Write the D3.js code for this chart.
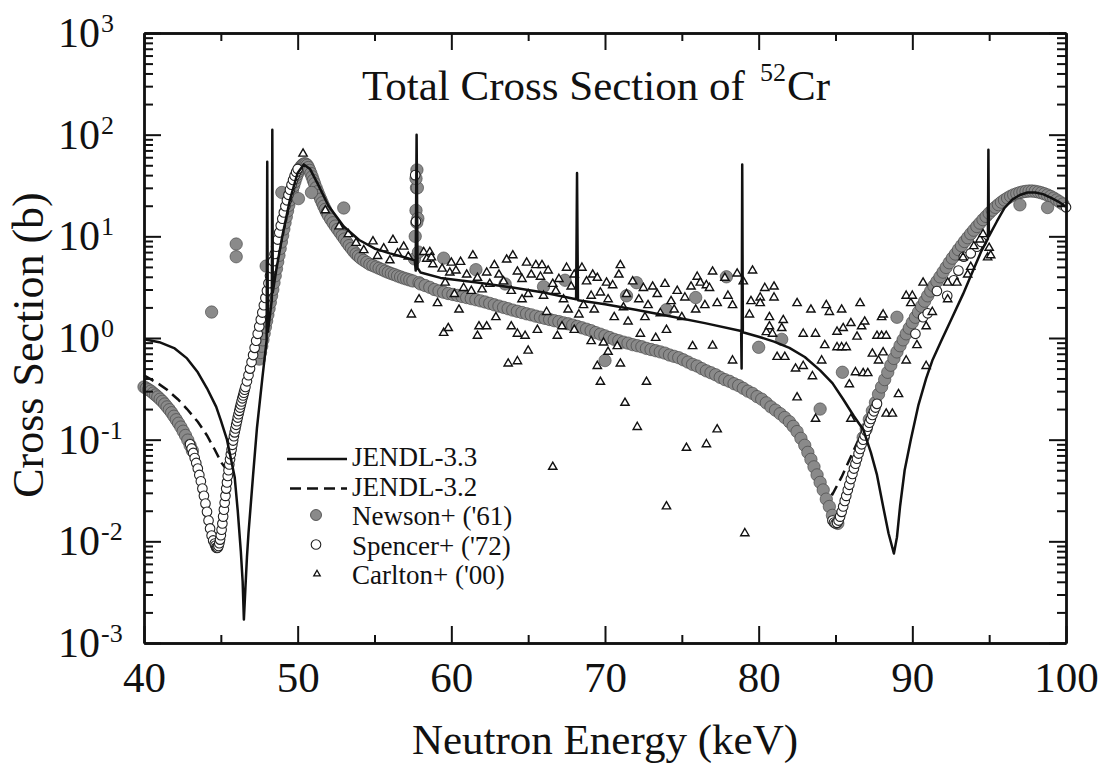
<!DOCTYPE html>
<html>
<head>
<meta charset="utf-8">
<script src="https://cdn.jsdelivr.net/npm/d3@7"></script>
<style>
  body { margin: 0; background: #fff; }
  svg { display: block; }
  text { font-family: "Liberation Serif", "Times New Roman", serif; fill: #111; }
</style>
</head>
<body>
<svg width="1104" height="768"></svg>
<script>
// Values: [neutron energy (keV), cross section (b)]
const jendl33 = [
  [40,0.97],[41,0.91],[42,0.79],[42.8,0.63],[43.5,0.46],[44.1,0.32],[44.7,0.21],[45.0,0.155],[45.4,0.1],
  [45.9,0.043],[46.1,0.02],[46.3,0.008],[46.42,0.004],[46.5,0.0017],[46.6,0.0035],[46.7,0.007],[46.8,0.012],
  [47.1,0.045],[47.35,0.13],[47.7,0.4],[47.98,0.95],[48.02,54],[48.06,1.15],[48.2,1.7],[48.32,2.4],[48.35,112],
  [48.38,2.8],[48.6,4.6],[49.0,10],[49.5,23],[50.0,42],[50.4,51],[50.8,46],[51.3,33],[52,20],[53,12.5],[54,9.2],
  [55,7.6],[56,6.8],[57,6.2],[57.62,5.8],[57.68,4.6],[57.74,100],[57.8,4.9],[58,4.4],[59.3,3.9],[61.8,3.5],
  [63.6,3.2],[66,2.8],[68.12,2.4],[68.18,42],[68.24,2.35],[70,2.15],[72,1.9],[74.4,1.62],[76.5,1.4],[78.86,1.17],
  [78.89,0.5],[78.93,51],[78.97,1.14],[80,1.03],[81,0.92],[82,0.8],[83,0.65],[84,0.48],[84.8,0.36],[85.5,0.25],
  [86.2,0.17],[86.8,0.126],[87.3,0.075],[87.7,0.045],[88.1,0.022],[88.45,0.012],[88.8,0.0076],[89.0,0.011],
  [89.2,0.022],[89.5,0.05],[89.9,0.1],[90.4,0.22],[90.9,0.4],[91.3,0.6],[91.9,0.95],[92.6,1.6],[93.3,2.7],
  [94,4.8],[94.5,7.2],[94.92,9.5],[94.95,71],[94.98,10],[95.5,14],[96,19],[96.5,23],[97,25.5],[97.5,27],
  [98,27],[98.5,26],[99,24],[99.5,22],[100,19.5]
];

const jendl32 = [
  [40,0.43],[41,0.35],[41.5,0.31],[42.2,0.25],[42.8,0.2],[43.5,0.15],[44.1,0.11],[44.6,0.08],[45.05,0.059],
  [45.4,0.05],[45.7,0.06],[46.0,0.11],[46.5,0.28],[47.0,0.6],[47.5,1.25],[48.0,2.8],[48.5,6.2],[49.0,13],
  [49.5,27],[50.0,45],[50.4,52],[50.8,45],[51.3,30],[52,16],[53,9.4],[54,6.3],[55,5.0],[56,4.3],[57,3.85],
  [58,3.4],[60,2.68],[62,2.3],[64,1.88],[66,1.57],[68,1.31],[70,1.05],[72,0.84],[74,0.69],[76,0.53],[78,0.38],
  [80,0.26],[82,0.15],[83,0.09],[83.8,0.048],[84.4,0.031],[84.8,0.029],[85.4,0.043],[86.0,0.068],[86.5,0.1],
  [87.0,0.15],[87.5,0.21],[88.5,0.47],[89.4,0.9],[90.3,1.6],[91.5,3.25],[93,7.0],[94.5,13.5],[96,23],
  [97.5,27.7],[99,25],[100,20]
];

// dense Newson+ points forming the grey band
const newsonBand = [
  [40,0.33],[40.15,0.32],[40.3,0.31],[40.45,0.3],[40.6,0.287],[40.75,0.275],[40.9,0.263],[41.05,0.25],
  [41.2,0.238],[41.35,0.224],[41.5,0.21],[41.65,0.197],[41.8,0.184],[41.95,0.17],[42.1,0.157],[42.25,0.145],
  [42.4,0.133],[42.55,0.121],[42.7,0.11],[42.85,0.099],[43.0,0.088],[43.15,0.078],
  [47.5,0.62],[47.58,0.72],[47.66,0.83],[47.74,0.96],[47.82,1.11],[47.9,1.28],[47.98,1.47],[48.06,1.69],
  [48.14,1.95],[48.22,2.24],[48.3,2.6],[48.38,3.0],[48.46,3.5],[48.54,4.1],[48.62,4.8],[48.7,5.6],[48.78,6.5],
  [48.86,7.6],[48.94,8.8],[49.02,10.2],[49.1,11.8],[49.18,13.6],[49.26,15.6],[49.34,17.8],[49.42,20.2],
  [49.5,22.8],[49.58,25.5],[49.66,28.4],[49.74,31.4],[49.82,34.5],[49.9,37.7],[49.98,40.8],[50.06,43.7],
  [50.14,46.3],[50.22,48.5],[50.3,50.2],[50.38,51.3],[50.46,51.7],[50.54,51.3],[50.62,50],[50.7,47.5],
  [50.78,44.5],[50.86,41.5],[50.94,38.5],[51.02,35.5],[51.1,33],[51.2,30],[51.3,27.5],[51.4,25.2],
  [51.5,23.2],[51.6,21.4],[51.7,19.8],[51.8,18.4],[51.9,17.1],[52.0,16],[52.15,14.7],[52.3,13.6],
  [52.45,12.6],[52.6,11.7],[52.75,10.9],[52.9,10.1],[53.05,9.4],[53.2,8.7],[53.35,8.1],[53.5,7.6],
  [53.65,7.1],[53.8,6.7],[53.95,6.4],[54.1,6.1],[54.3,5.8],[54.5,5.55],[54.7,5.3],[54.9,5.15],[55.1,5.0],
  [55.3,4.85],[55.5,4.7],[55.7,4.55],[55.9,4.42],[56.1,4.3],[56.3,4.2],[56.5,4.08],[56.7,3.98],[56.9,3.88],
  [57.1,3.8],[57.3,3.72],[57.5,3.64],[57.6,6],[57.65,10],[57.7,18],[57.73,30],[57.76,45],[57.79,30],
  [57.82,15],[57.86,7],[57.9,3.5],
  [58.0,3.4],[58.3,3.28],[58.6,3.15],[58.9,3.0],[59.2,2.9],[59.5,2.82],[59.8,2.74],[60.1,2.68],[60.4,2.62],
  [60.7,2.56],[61.0,2.5],[61.3,2.44],[61.6,2.38],[61.9,2.32],[62.2,2.26],[62.5,2.19],[62.8,2.12],[63.1,2.06],
  [63.4,2.0],[63.7,1.94],[64.0,1.88],[64.3,1.83],[64.6,1.78],[64.9,1.73],[65.2,1.69],[65.5,1.64],[65.8,1.6],
  [66.1,1.56],[66.4,1.52],[66.7,1.48],[67.0,1.45],[67.3,1.41],[67.6,1.38],[67.9,1.34],[68.2,1.3],[68.5,1.26],
  [68.8,1.22],[69.1,1.18],[69.4,1.13],[69.7,1.09],[70.0,1.05],[70.3,1.01],[70.6,0.97],[70.9,0.94],[71.2,0.91],
  [71.5,0.89],[71.8,0.86],[72.1,0.84],[72.4,0.82],[72.7,0.79],[73.0,0.77],[73.3,0.75],[73.6,0.73],[73.9,0.71],
  [74.2,0.68],[74.5,0.66],[74.8,0.64],[75.1,0.61],[75.4,0.58],[75.7,0.55],[76.0,0.53],[76.3,0.5],[76.6,0.475],
  [76.9,0.455],[77.2,0.435],[77.5,0.41],[77.8,0.39],[78.1,0.375],[78.4,0.355],[78.7,0.34],[79.0,0.32],
  [79.3,0.3],[79.6,0.285],[79.9,0.265],[80.2,0.25],[80.5,0.23],[80.8,0.21],[81.1,0.195],[81.4,0.18],
  [81.7,0.165],[82.0,0.15],[82.25,0.135],[82.5,0.12],[82.75,0.103],[83.0,0.088],[83.2,0.075],[83.4,0.064],
  [83.6,0.054],[83.8,0.045],[84.0,0.038],[84.2,0.032],[84.4,0.026],[84.6,0.022],[84.8,0.018],[85.0,0.0158],
  [85.15,0.015],
  [86.8,0.105],[87.0,0.128],[87.2,0.158],[87.4,0.192],[87.6,0.232],[87.8,0.28],[88.0,0.33],[88.2,0.39],
  [88.4,0.46],[88.6,0.54],[88.8,0.63],[89.0,0.73],[89.2,0.84],[89.4,0.96],[89.6,1.1],[89.8,1.25],[90.0,1.42],
  [90.2,1.6],[90.4,1.8],[90.6,2.05],[90.8,2.3],[91.0,2.6],[91.2,2.9],[91.4,3.25],[91.6,3.6],[91.8,4.0],
  [92.0,4.45],[92.2,4.95],[92.4,5.5],[92.6,6.1],[92.8,6.7],[93.0,7.4],[93.2,8.1],[93.4,8.9],[93.6,9.7],
  [93.8,10.6],[94.0,11.5],[94.2,12.5],[94.4,13.5],[94.6,14.6],[94.8,15.7],[95.0,16.9],[95.2,18.1],[95.4,19.3],
  [95.6,20.5],[95.8,21.7],[96.0,22.8],[96.2,23.8],[96.4,24.8],[96.6,25.6],[96.8,26.3],[97.0,26.9],[97.2,27.4],
  [97.4,27.7],[97.6,27.9],[97.8,27.9],[98.0,27.7],[98.2,27.3],[98.4,26.8],[98.6,26.2],[98.8,25.5],[99.0,24.7],
  [99.2,23.8],[99.4,22.8],[99.6,21.8],[99.8,20.8]
];

// scattered Newson+ points
const newsonScatter = [
  [44.4,1.8],[46.0,8.4],[46.0,6.3],[47.95,5.1],[48.97,27],[50.05,23.5],[50.9,27],[53.0,19],[57.7,37],
  [57.75,13.7],[59.5,6.1],[61.6,4.7],[63.5,3.4],[66.0,3.2],[67.4,3.7],[70.0,0.6],[71.4,2.6],[72.05,3.5],
  [74.0,1.9],[75.9,2.5],[77.9,4.0],[80.0,0.81],[81.5,0.97],[84.0,0.2],[85.45,0.46],[89.0,1.6],[97.0,20.4],
  [98.8,19.2]
];

const spencer = [
  [43.0,0.09],[43.1,0.082],[43.2,0.074],[43.3,0.066],[43.4,0.059],[43.5,0.052],[43.6,0.045],[43.7,0.039],
  [43.8,0.033],[43.9,0.028],[44.0,0.0235],[44.1,0.0195],[44.2,0.016],[44.3,0.0134],[44.4,0.0114],[44.5,0.0102],
  [44.6,0.0095],[44.65,0.0091],[44.7,0.0087],[44.75,0.0086],[44.8,0.0087],[44.85,0.009],[44.9,0.0096],
  [44.95,0.0104],[45.0,0.0115],[45.05,0.013],[45.1,0.015],[45.15,0.0175],[45.2,0.0205],[45.25,0.024],
  [45.3,0.028],[45.35,0.033],[45.4,0.038],[45.45,0.044],[45.5,0.05],[45.55,0.057],[45.6,0.064],[45.65,0.072],
  [45.7,0.08],[45.75,0.089],[45.8,0.098],[45.85,0.108],[45.9,0.118],[45.95,0.129],[46.0,0.14],[46.05,0.152],
  [46.1,0.165],[46.15,0.178],[46.2,0.192],[46.25,0.207],[46.3,0.222],[46.35,0.238],[46.4,0.255],[46.45,0.272],
  [46.5,0.29],[46.55,0.31],[46.6,0.33],[46.7,0.375],[46.8,0.43],[46.9,0.5],[47.0,0.58],[47.1,0.68],[47.2,0.8],
  [47.3,0.94],[47.4,1.1],[47.5,1.3],[47.6,1.52],[47.7,1.78],[47.8,2.1],[47.9,2.48],[48.0,2.92],[48.1,3.45],
  [48.2,4.1],[48.3,4.85],[48.4,5.7],[48.5,6.7],[48.6,7.9],[48.7,9.3],[48.8,10.9],[48.9,12.8],[49.0,14.9],
  [49.1,17.2],[49.2,19.8],[49.3,22.6],[49.4,25.6],[49.5,28.8],[49.6,32.2],[49.7,35.8],[49.8,39.5],[49.9,43],
  [50.0,46],[57.65,40],[57.7,14],
  [84.8,0.016],[84.9,0.0153],[85.0,0.015],[85.1,0.0152],[85.2,0.016],[85.3,0.0175],[85.4,0.0195],[85.5,0.022],
  [85.6,0.025],[85.7,0.028],[85.8,0.032],[85.9,0.036],[86.0,0.041],[86.1,0.046],[86.2,0.052],[86.3,0.058],
  [86.4,0.065],[86.5,0.073],[86.6,0.081],[86.7,0.09],[86.8,0.1],[86.9,0.11],[87.0,0.122],[87.1,0.134],
  [87.2,0.147],[87.3,0.16],[87.4,0.175],[87.5,0.19],[87.6,0.207],[87.7,0.225],
  [90.2,1.1],[90.7,1.6],[91.0,1.75],[91.6,2.9],[92.27,2.6],[92.7,3.7],[93.0,4.6],[93.35,6.3],[93.8,6.8],
  [94.2,7.9],[94.5,8.8],[100,19.3]
];

const carlton = [
  [50.35,65],[51.8,18],[52.7,12.5],[53.3,10.5],[53.8,8.6],[54.3,7.3],[54.9,8.9],[55.2,6.4],[55.6,7.6],
  [56.0,5.8],[56.2,9.2],[56.5,6.8],[56.9,7.9],[57.2,6.3],[57.4,1.7],[57.9,2.4],[58.2,7.0],[58.4,6.0],
  [58.6,7.0],[58.8,5.3],[59.1,2.2],[58.7,6.2],[59.4,4.8],[59.6,3.5],[59.5,1.12],[59.8,1.25],[59.9,4.4],
  [60.0,5.5],[60.2,2.7],[60.3,4.6],[60.5,1.9],[60.6,5.6],[60.8,3.1],[61.0,4.2],[61.3,2.9],[61.4,6.5],
  [61.7,3.9],[61.7,1.05],[61.8,1.3],[62.0,3.0],[62.3,4.4],[62.3,1.3],[62.5,3.4],[62.8,5.2],[62.9,1.6],
  [63.1,4.2],[63.4,3.6],[63.6,5.9],[63.7,0.56],[63.9,2.9],[63.9,1.3],[64.0,6.5],[64.3,4.5],[64.3,1.1],
  [64.3,0.59],[64.6,3.8],[64.6,2.4],[64.8,1.05],[64.9,5.5],[65.0,2.7],[65.0,0.75],[65.2,4.2],[65.5,5.2],
  [65.6,1.2],[65.8,4.0],[65.9,5.2],[66.0,2.6],[66.2,1.8],[66.3,4.6],[66.6,3.4],[66.6,0.054],[66.8,2.9],
  [66.9,1.05],[67.0,3.8],[67.2,1.3],[67.3,2.4],[67.5,4.9],[67.6,1.9],[67.8,3.2],[68.0,4.2],[68.0,1.2],
  [68.3,1.7],[68.5,4.9],[68.6,2.1],[68.8,3.6],[69.1,2.6],[69.1,0.93],[69.2,4.2],[69.3,1.9],[69.5,3.9],
  [69.5,0.53],[69.7,2.8],[69.7,0.37],[69.9,0.9],[70.1,3.5],[70.2,2.4],[70.2,0.73],[70.5,3.3],[70.6,1.6],
  [70.8,0.83],[70.9,4.2],[71.0,5.2],[71.0,0.56],[71.2,2.0],[71.3,0.23],[71.4,2.7],[71.5,1.45],[71.8,3.6],
  [72.1,0.133],[72.2,2.4],[72.3,1.1],[72.5,3.1],[72.6,1.6],[72.7,0.37],[72.8,2.1],[73.1,3.2],[73.3,1.0],
  [73.4,2.7],[73.6,1.75],[73.9,3.4],[74.0,1.2],[74.0,0.022],[74.3,2.3],[74.5,1.9],[74.7,2.9],[75.0,1.6],
  [75.2,2.5],[75.3,0.083],[75.6,3.2],[75.7,0.83],[75.9,1.9],[76.0,4.0],[76.2,3.5],[76.5,2.1],[76.6,3.3],
  [76.6,0.09],[76.8,3.1],[77.0,4.5],[77.0,0.84],[77.3,2.2],[77.3,0.126],[77.8,3.9],[78.0,2.6],[78.3,2.1],
  [78.3,0.6],[78.6,4.3],[79.0,3.6],[79.1,0.012],[79.4,1.7],[79.5,2.3],[79.6,4.6],[80.1,2.5],[80.1,2.2],
  [80.4,3.1],[80.5,1.14],[80.7,1.6],[80.7,1.3],[80.9,1.1],[81.0,3.2],[81.0,2.5],[81.2,0.65],[81.5,1.25],
  [81.6,1.5],[81.7,0.65],[82.4,0.5],[82.5,2.2],[82.5,0.26],[82.9,1.1],[82.9,0.53],[83.4,1.9],[83.5,0.42],
  [83.7,1.1],[83.7,0.16],[84.1,0.6],[84.3,0.85],[84.4,2.1],[84.6,1.8],[85.1,1.15],[85.1,0.81],[85.4,1.9],
  [85.4,0.81],[85.5,1.25],[85.7,0.81],[85.9,0.35],[86.0,1.4],[86.0,0.16],[86.3,0.46],[86.4,1.03],[86.6,2.2],
  [86.7,1.3],[86.8,0.45],[86.9,1.45],[87.1,0.45],[87.4,0.7],[87.7,1.05],[87.8,0.6],[88.0,1.6],[88.0,1.05],
  [88.1,0.72],[88.1,1.7],[88.3,1.05],[88.3,0.18],[88.7,0.18],[89.1,0.28],[89.6,2.6],[89.6,0.6],[89.9,2.2],
  [90.0,2.6],[90.3,0.85],[90.7,3.5],[90.9,1.3],[90.9,0.53],[91.3,1.8],[92.3,3.5],[92.3,2.4],[92.9,3.5],
  [93.3,6.2],[93.6,4.2],[93.8,5.0],[94.0,8.0],[94.4,9.3],[94.6,10.5],[94.9,6.2],[95.0,7.7],[95.1,6.5]
];

const xMajor = [40, 50, 60, 70, 80, 90, 100];
const xMinor = [45, 55, 65, 75, 85, 95];
const yExps = [-3, -2, -1, 0, 1, 2, 3];
const legendLabels = ["JENDL-3.3", "JENDL-3.2", "Newson+ ('61)", "Spencer+ ('72)", "Carlton+ ('00)"];

// Layout
const width = 1104;
const height = 768;
const margin = { top: 33, right: 38, bottom: 125, left: 144 };
const innerWidth = width - margin.left - margin.right;
const innerHeight = height - margin.top - margin.bottom;

const svg = d3.select('svg');
const g = svg.append('g').attr('transform', `translate(${margin.left},${margin.top})`);

const x = d3.scaleLinear().domain([40, 100]).range([0, innerWidth]);
const y = d3.scaleLog().domain([1e-3, 1e3]).range([innerHeight, 0]);

const yMajor = yExps.map(e => Math.pow(10, e));
const yMinor = [];
yExps.slice(0, -1).forEach(e => {
    for (let m = 2; m <= 9; m++) yMinor.push(m * Math.pow(10, e));
});

const line = d3.line().x(d => x(d[0])).y(d => y(d[1]));

// marker styles
const newsonStyle = { r: 6.2, fill: '#8a8a8a', stroke: '#3e3e3e', sw: 0.6 };
const spencerStyle = { r: 4.8, fill: '#fff', stroke: '#222', sw: 1.1 };

// JENDL-3.2 (dashed) sits underneath the data
g.append('path')
    .datum(jendl32)
    .attr('fill', 'none')
    .attr('stroke', '#111')
    .attr('stroke-width', 2.5)
    .attr('stroke-dasharray', '11,6')
    .attr('d', line);

// Newson+ grey circles
g.append('g').selectAll('circle')
    .data(newsonBand.concat(newsonScatter))
    .join('circle')
    .attr('cx', d => x(d[0]))
    .attr('cy', d => y(d[1]))
    .attr('r', newsonStyle.r)
    .attr('fill', newsonStyle.fill)
    .attr('stroke', newsonStyle.stroke)
    .attr('stroke-width', newsonStyle.sw);

// Spencer+ open circles
g.append('g').selectAll('circle')
    .data(spencer)
    .join('circle')
    .attr('cx', d => x(d[0]))
    .attr('cy', d => y(d[1]))
    .attr('r', spencerStyle.r)
    .attr('fill', spencerStyle.fill)
    .attr('stroke', spencerStyle.stroke)
    .attr('stroke-width', spencerStyle.sw);

// Carlton+ open triangles
const tri = d3.symbol().type(d3.symbolTriangle).size(30);
g.append('g').selectAll('path')
    .data(carlton)
    .join('path')
    .attr('transform', d => `translate(${x(d[0])},${y(d[1])})`)
    .attr('d', tri)
    .attr('fill', '#fff')
    .attr('stroke', '#111')
    .attr('stroke-width', 1.4);

// JENDL-3.3 (solid) on top
g.append('path')
    .datum(jendl33)
    .attr('fill', 'none')
    .attr('stroke', '#111')
    .attr('stroke-width', 2.5)
    .attr('stroke-linejoin', 'round')
    .attr('d', line);

// Axes: ticks point inward on all four sides
function styleAxis(sel) {
    sel.select('.domain').attr('stroke', '#111').attr('stroke-width', 2.4);
    sel.selectAll('.tick line').attr('stroke', '#111').attr('stroke-width', 2);
}
// unlabeled tick sets: drop the empty text nodes d3 creates
function ticksOnly(sel) {
    styleAxis(sel);
    sel.selectAll('.tick text').remove();
}

const xAxisG = g.append('g')
    .attr('transform', `translate(0,${innerHeight})`)
    .call(d3.axisBottom(x).tickValues(xMajor).tickSize(-17).tickSizeOuter(0).tickFormat(d3.format('d')))
    .call(styleAxis);
// place the tick labels by baseline rather than by dy
xAxisG.selectAll('.tick text')
    .attr('font-size', 43)
    .attr('y', 49)
    .attr('dy', null);

g.append('g')
    .attr('transform', `translate(0,${innerHeight})`)
    .call(d3.axisBottom(x).tickValues(xMinor).tickSize(-8).tickSizeOuter(0))
    .call(ticksOnly);
g.append('g')
    .call(d3.axisTop(x).tickValues(xMajor).tickSize(-17).tickSizeOuter(0))
    .call(ticksOnly);
g.append('g')
    .call(d3.axisTop(x).tickValues(xMinor).tickSize(-8).tickSizeOuter(0))
    .call(ticksOnly);

g.append('g')
    .call(d3.axisLeft(y).tickValues(yMajor).tickSize(-17).tickSizeOuter(0))
    .call(ticksOnly);
g.append('g')
    .call(d3.axisLeft(y).tickValues(yMinor).tickSize(-9).tickSizeOuter(0))
    .call(ticksOnly);
g.append('g')
    .attr('transform', `translate(${innerWidth},0)`)
    .call(d3.axisRight(y).tickValues(yMajor).tickSize(-17).tickSizeOuter(0))
    .call(ticksOnly);
g.append('g')
    .attr('transform', `translate(${innerWidth},0)`)
    .call(d3.axisRight(y).tickValues(yMinor).tickSize(-9).tickSizeOuter(0))
    .call(ticksOnly);

// y tick labels: "10" with a raised exponent, in page coordinates
yExps.forEach(e => {
    const ty = margin.top + y(Math.pow(10, e));
    svg.append('text')
        .attr('x', 100).attr('y', ty + 14)
        .attr('text-anchor', 'end')
        .attr('font-size', 42)
        .text('10');
    svg.append('text')
        .attr('x', 101).attr('y', ty - 1)
        .attr('font-size', 26)
        .text(String(e));
});

// Title
svg.append('text')
    .attr('x', 362).attr('y', 100)
    .attr('font-size', 43)
    .text('Total Cross Section of');
svg.append('text')
    .attr('x', 760).attr('y', 81)
    .attr('font-size', 26)
    .text('52');
svg.append('text')
    .attr('x', 787).attr('y', 100)
    .attr('font-size', 43)
    .text('Cr');

// Axis titles
svg.append('text')
    .attr('x', margin.left + innerWidth / 2).attr('y', 754)
    .attr('text-anchor', 'middle')
    .attr('font-size', 43)
    .text('Neutron Energy (keV)');
svg.append('text')
    .attr('transform', 'translate(43,345) rotate(-90)')
    .attr('text-anchor', 'middle')
    .attr('font-size', 44)
    .text('Cross Section (b)');

// Legend
const leg = svg.append('g');
const rowY = i => 466 + i * 29.5;
leg.append('line')
    .attr('x1', 287).attr('x2', 347).attr('y1', rowY(0) - 7).attr('y2', rowY(0) - 7)
    .attr('stroke', '#111').attr('stroke-width', 2.5);
leg.append('line')
    .attr('x1', 290).attr('x2', 347).attr('y1', rowY(1) - 7).attr('y2', rowY(1) - 7)
    .attr('stroke', '#111').attr('stroke-width', 2.5).attr('stroke-dasharray', '11,6');
leg.append('circle')
    .attr('cx', 316).attr('cy', rowY(2) - 10).attr('r', 5.5)
    .attr('fill', newsonStyle.fill).attr('stroke', newsonStyle.stroke).attr('stroke-width', 0.8);
leg.append('circle')
    .attr('cx', 316).attr('cy', rowY(3) - 10).attr('r', 4.8)
    .attr('fill', '#fff').attr('stroke', '#222').attr('stroke-width', 1.1);
leg.append('path')
    .attr('transform', `translate(317,${rowY(4) - 10})`)
    .attr('d', d3.symbol().type(d3.symbolTriangle).size(18))
    .attr('fill', '#fff').attr('stroke', '#111').attr('stroke-width', 1.3);
leg.selectAll('text')
    .data(legendLabels)
    .join('text')
    .attr('x', 352)
    .attr('y', (d, i) => rowY(i))
    .attr('font-size', 27)
    .text(d => d);
</script>
</body>
</html>
